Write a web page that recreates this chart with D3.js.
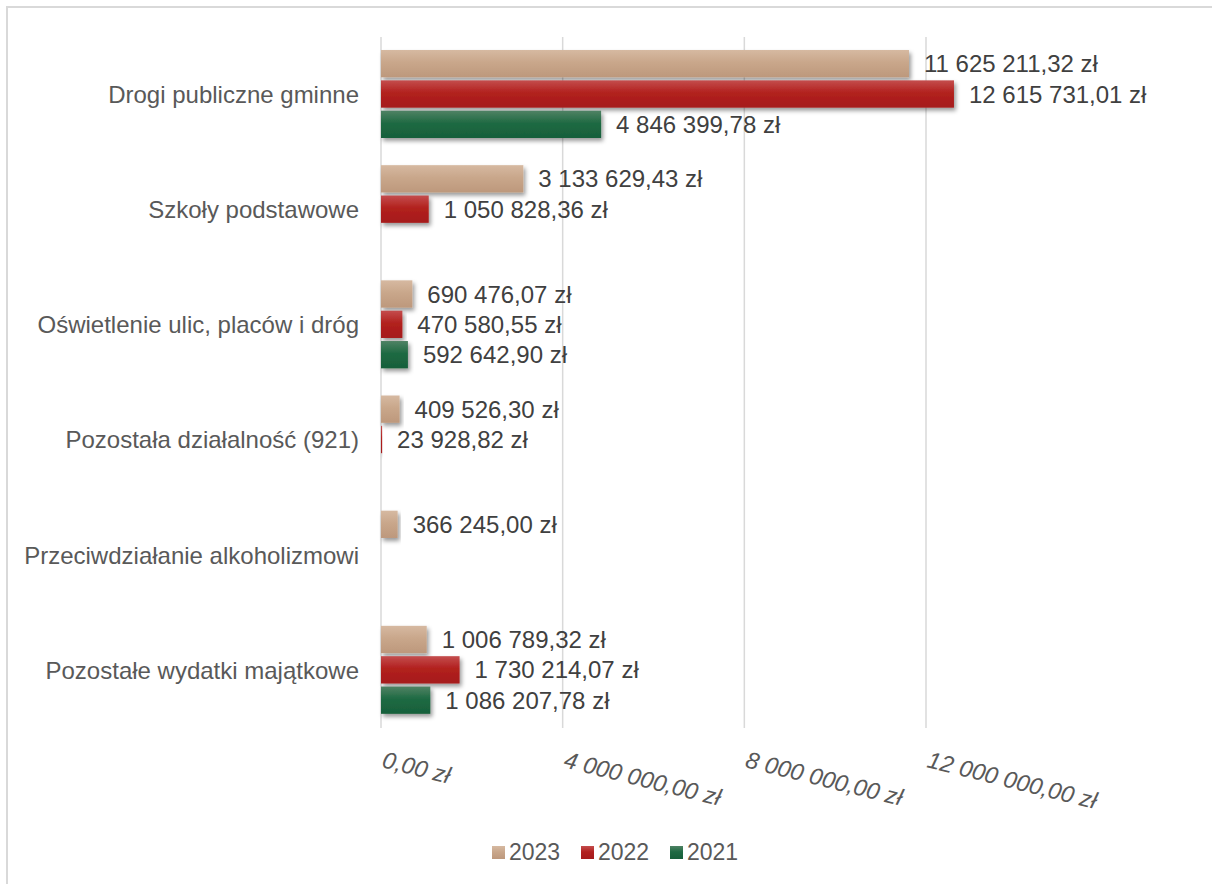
<!DOCTYPE html>
<html>
<head>
<meta charset="utf-8">
<script src="https://cdn.jsdelivr.net/npm/d3@7"></script>
<style>
  body { margin: 0; background: #fff; }
  text { font-family: "Liberation Sans", Arial, sans-serif; }
</style>
</head>
<body>
<div id="chart"></div>
<script>
var svgWidth = 1212;
var svgHeight = 884;

// data
var categories = [
  "Drogi publiczne gminne",
  "Szkoły podstawowe",
  "Oświetlenie ulic, placów i dróg",
  "Pozostała działalność (921)",
  "Przeciwdziałanie alkoholizmowi",
  "Pozostałe wydatki majątkowe"
];
var years = ["2023", "2022", "2021"];
var values2023 = [11625211.32, 3133629.43, 690476.07, 409526.30, 366245.00, 1006789.32];
var values2022 = [12615731.01, 1050828.36, 470580.55, 23928.82, null, 1730214.07];
var values2021 = [4846399.78, null, 592642.90, null, null, 1086207.78];
var tickValues = [0, 4000000, 8000000, 12000000];

var seriesValues = { "2023": values2023, "2022": values2022, "2021": values2021 };
var colors = {
  "2023": ["#d6b9a1", "#c9a78b", "#bd987c"],
  "2022": ["#c44d4d", "#b2211f", "#a51b1b"],
  "2021": ["#4f8264", "#1f6a43", "#175f3a"]
};

var svg = d3.select("#chart")
  .append("svg")
  .attr("width", svgWidth)
  .attr("height", svgHeight);

var defs = svg.append("defs");

// soft drop shadow under each bar
var shadow = defs.append("filter")
  .attr("id", "shadow")
  .attr("x", "-10%").attr("y", "-30%")
  .attr("width", "130%").attr("height", "180%");
shadow.append("feDropShadow")
  .attr("dx", 2).attr("dy", 3)
  .attr("stdDeviation", 2)
  .attr("flood-color", "#000")
  .attr("flood-opacity", 0.4);

years.forEach(function(yr) {
  var g = defs.append("linearGradient")
    .attr("id", "grad" + yr)
    .attr("x1", 0).attr("y1", 0).attr("x2", 0).attr("y2", 1);
  g.append("stop").attr("offset", "0%").attr("stop-color", colors[yr][0]);
  g.append("stop").attr("offset", "45%").attr("stop-color", colors[yr][1]);
  g.append("stop").attr("offset", "100%").attr("stop-color", colors[yr][2]);
});

// outer frame
svg.append("rect")
  .attr("x", 7).attr("y", 7)
  .attr("width", svgWidth + 10).attr("height", svgHeight + 10)
  .attr("fill", "none")
  .attr("stroke", "#d9d9d9")
  .attr("stroke-width", 2);

var xScale = d3.scaleLinear()
  .domain([0, 12000000])
  .range([381, 926]);

var yScale = d3.scaleBand()
  .domain(categories)
  .range([37, 728]);

var ySub = d3.scaleBand()
  .domain(years)
  .range([13, 101])
  .paddingInner(0.1);

var fmt = function(v) {
  var s = v.toFixed(2).split(".");
  var intPart = s[0].replace(/\B(?=(\d{3})+(?!\d))/g, " ");
  return intPart + "," + s[1] + " zł";
};

// gridlines
svg.append("g")
  .selectAll("line")
  .data(tickValues)
  .enter()
  .append("line")
  .attr("x1", d => xScale(d)).attr("x2", d => xScale(d))
  .attr("y1", 37).attr("y2", 728)
  .attr("stroke", "#d9d9d9")
  .attr("stroke-width", 1.5);

// x tick labels, rotated and italic
svg.append("g")
  .selectAll("text")
  .data(tickValues)
  .enter()
  .append("text")
  .attr("transform", d => `translate(${xScale(d)}, 767) rotate(14)`)
  .attr("font-size", 23.5)
  .attr("font-style", "italic")
  .attr("fill", "#595959")
  .text(d => fmt(d));

// category labels
svg.append("g")
  .selectAll("text")
  .data(categories)
  .enter()
  .append("text")
  .attr("x", 359)
  .attr("y", d => yScale(d) + yScale.bandwidth() / 2)
  .attr("dy", "0.35em")
  .attr("text-anchor", "end")
  .attr("font-size", 24)
  .attr("fill", "#595959")
  .text(d => d);

// flatten into bar records
var bars = [];
categories.forEach(function(cat, i) {
  years.forEach(function(yr) {
    var v = seriesValues[yr][i];
    if (v !== null) bars.push({ cat: cat, year: yr, value: v });
  });
});

var barGroup = svg.append("g");

barGroup.selectAll("rect")
  .data(bars)
  .enter()
  .append("rect")
  .attr("x", xScale(0))
  .attr("y", d => yScale(d.cat) + ySub(d.year))
  .attr("width", d => Math.max(0, xScale(d.value) - xScale(0)))
  .attr("height", ySub.bandwidth())
  .attr("fill", d => "url(#grad" + d.year + ")")
  .attr("filter", "url(#shadow)");

barGroup.selectAll("text")
  .data(bars)
  .enter()
  .append("text")
  .attr("x", d => xScale(d.value) + 15)
  .attr("y", d => yScale(d.cat) + ySub(d.year) + ySub.bandwidth() / 2)
  .attr("dy", "0.36em")
  .attr("font-size", 24)
  .attr("fill", "#404040")
  .text(d => fmt(d.value));

// legend
var legend = svg.append("g")
  .selectAll("g")
  .data(years)
  .enter()
  .append("g")
  .attr("transform", (d, i) => `translate(${492 + i * 89}, 846)`);

legend.append("rect")
  .attr("width", 13).attr("height", 13)
  .attr("fill", d => "url(#grad" + d + ")");

legend.append("text")
  .attr("x", 17)
  .attr("y", 14)
  .attr("font-size", 23)
  .attr("fill", "#595959")
  .text(d => d);
</script>
</body>
</html>
